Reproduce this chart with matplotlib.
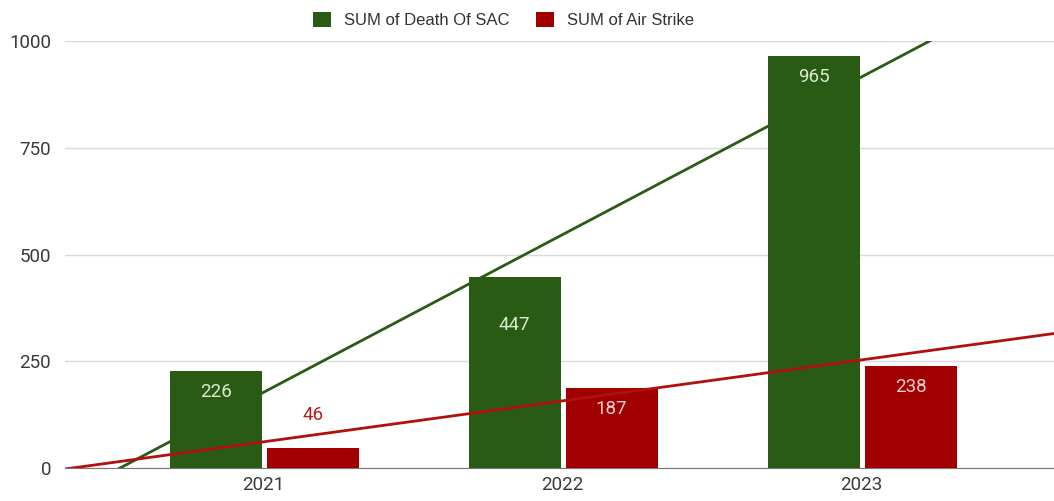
import matplotlib.pyplot as plt
import numpy as np

years = [2021, 2022, 2023]
death_sac = [226, 447, 965]
air_strike = [46, 187, 238]
series_names = ["SUM of Death Of SAC", "SUM of Air Strike"]
y_ticks = [0, 250, 500, 750, 1000]

GREEN = "#2a5b14"
RED = "#a00000"

fig = plt.figure(figsize=(10.54, 5.01), dpi=100)
ax = fig.add_axes([0.0617, 0.066, 0.9383, 0.852])

x = np.array(years, dtype=float)
w = 0.308
b1 = ax.bar(x - 0.158, death_sac, w, color=GREEN, label=series_names[0], zorder=2)
b2 = ax.bar(x + 0.166, air_strike, w, color=RED, label=series_names[1], zorder=2)

# linear trendlines like the sheets chart
xs = np.linspace(2020.3, 2023.7, 50)
for vals, col in [(death_sac, GREEN), (air_strike, "#b01010")]:
    k, c = np.polyfit(x, vals, 1)
    ax.plot(xs, k * xs + c, color=col, lw=2, zorder=3)

# data labels (inside the bar top, or above when the bar is short)
shift = {447: -48}
for bars, vals, inner in [(b1, death_sac, "#d9ead3"), (b2, air_strike, "#f4cccc")]:
    for rect, v in zip(bars, vals):
        cx = rect.get_x() + rect.get_width() / 2
        if v < 60:
            ax.annotate(str(v), (cx, v), xytext=(0, 24), textcoords="offset points",
                        ha="center", va="center", color="#b02020",
                        fontsize=13.5, family="Roboto", zorder=4)
        else:
            ax.annotate(str(v), (cx, v), xytext=(0, shift.get(v, -21) * 0.72),
                        textcoords="offset points", ha="center", va="center",
                        color=inner, fontsize=13.5, family="Roboto", zorder=4)

ax.set_xlim(2020.338, 2023.645)
ax.set_ylim(0, 1000)
ax.set_yticks(y_ticks)
ax.set_xticks(years)
ax.set_xticklabels([str(y) for y in years])
ax.grid(axis="y", color="#dadada", lw=1, zorder=0)
ax.set_axisbelow(True)
for s in ["top", "right", "left"]:
    ax.spines[s].set_visible(False)
ax.spines["bottom"].set_color("#777777")
ax.spines["bottom"].set_zorder(1)
ax.tick_params(axis="both", length=0, labelsize=13.5, colors="#3a3a3a")
ax.tick_params(axis="y", pad=10)
ax.tick_params(axis="x", pad=6)
for t in ax.get_xticklabels() + ax.get_yticklabels():
    t.set_family("Roboto")

leg = fig.legend(handles=[b1, b2], loc="upper center", bbox_to_anchor=(0.478, 1.006),
                 ncol=2, frameon=False, handlelength=1.05,
                 handleheight=1.05, handletextpad=0.8, columnspacing=1.6,
                 prop={"family": "Liberation Sans", "size": 12})
for t in leg.get_texts():
    t.set_color("#333333")

fig.savefig("out.png", dpi=100, facecolor="white")
